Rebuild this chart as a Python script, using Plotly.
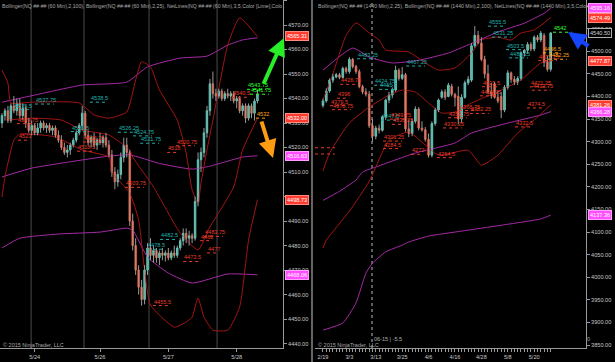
import plotly.graph_objects as go

W, H = 615, 362
FONT = "Liberation Sans"

# ======================= LEFT PANEL : NQ 60 Min =======================
L_open = [4530, 4533, 4535, 4531, 4537, 4535, 4538, 4533, 4536, 4530,
          4527, 4529, 4526, 4528, 4530, 4528, 4529, 4527, 4528, 4525,
          4523, 4520, 4518, 4519, 4521, 4523, 4526, 4529, 4534, 4525,
          4522, 4524, 4521, 4523, 4522, 4524, 4521, 4517, 4510, 4506,
          4509, 4516, 4521, 4518, 4490, 4480, 4470, 4463, 4458, 4470,
          4479, 4476, 4478, 4475, 4477, 4476, 4477, 4475, 4477, 4476,
          4479, 4482, 4485, 4483, 4484, 4483, 4498, 4515, 4518, 4526,
          4535, 4546, 4542, 4541, 4543, 4540, 4542, 4541, 4542, 4539,
          4540, 4535, 4537, 4532, 4537, 4534, 4539]
L_high = [4534, 4536, 4537, 4538, 4541, 4540, 4540, 4538, 4537, 4532,
          4531, 4530, 4530, 4531, 4531, 4530, 4530, 4529, 4529, 4527,
          4525, 4522, 4521, 4522, 4524, 4527, 4530, 4537, 4535, 4527,
          4525, 4526, 4524, 4526, 4525, 4526, 4523, 4519, 4512, 4511,
          4518, 4524, 4524, 4519, 4493, 4483, 4472, 4466, 4472, 4481,
          4483, 4480, 4479, 4478, 4479, 4478, 4479, 4478, 4480, 4480,
          4483, 4487, 4487, 4486, 4485, 4500, 4518, 4520, 4528, 4537,
          4548, 4551, 4544, 4544, 4544, 4543, 4544, 4543, 4543, 4541,
          4541, 4538, 4538, 4538, 4538, 4540, 4543.75]
L_low = [4528, 4531, 4530, 4530, 4534, 4533, 4532, 4531, 4528, 4526,
         4525, 4525, 4525, 4526, 4527, 4526, 4526, 4525, 4524, 4522,
         4519, 4517, 4516, 4517, 4520, 4522, 4525, 4527, 4524, 4521,
         4520, 4520, 4519, 4521, 4520, 4520, 4516, 4508, 4503, 4504,
         4507, 4514, 4516, 4488, 4478, 4468, 4460, 4455.5, 4456, 4468,
         4474, 4473, 4473, 4472, 4474, 4473.5, 4474, 4474, 4475, 4475,
         4478, 4480, 4481, 4480, 4481, 4482, 4496, 4510, 4516, 4524,
         4533, 4540, 4539, 4540, 4539, 4539, 4540, 4539, 4538, 4536,
         4534, 4533, 4530, 4531, 4532, 4531, 4538]
L_close = [4533, 4535, 4531, 4537, 4535, 4538, 4533, 4536, 4530, 4527,
           4529, 4526, 4528, 4530, 4528, 4529, 4527, 4528, 4525, 4523,
           4520, 4518, 4519, 4521, 4523, 4526, 4529, 4534, 4525, 4522,
           4524, 4521, 4523, 4522, 4524, 4521, 4517, 4510, 4506, 4509,
           4516, 4521, 4518, 4490, 4480, 4470, 4463, 4458, 4470, 4479,
           4476, 4478, 4475, 4477, 4476, 4477, 4475, 4477, 4476, 4479,
           4482, 4485, 4483, 4484, 4483, 4498, 4515, 4518, 4526, 4535,
           4546, 4542, 4541, 4543, 4540, 4542, 4541, 4542, 4539, 4540,
           4535, 4537, 4532, 4537, 4534, 4539, 4541.75]

L_date_ticks = [11, 33, 56, 79]
L_date_text = ["5/24", "5/26", "5/27", "5/28"]
L_session_breaks = [9.8, 27.6, 49.5, 72.4]

# Bollinger(2,100) - magenta
L_bb100_up_bar = [0, 14, 27, 42, 49, 60, 69, 76, 81, 86]
L_bb100_up = [4538.5, 4542.2, 4545.5, 4546.7, 4552.9, 4556.5, 4557.3, 4561.8, 4563.9, 4564.8]
L_bb100_mid_bar = [0, 10, 22, 36, 43, 53, 64, 70, 81, 86]
L_bb100_mid = [4508, 4511.6, 4514, 4516.5, 4517, 4513.5, 4511.2, 4512.4, 4516.1, 4516.63]
L_bb100_lo_bar = [0, 6, 19, 33, 42, 44, 49, 56, 64, 76, 86]
L_bb100_lo = [4479, 4483, 4484.7, 4485.5, 4487.1, 4486.3, 4475.3, 4468.8, 4464.7, 4468.4, 4468.06]
# Bollinger(2,25) - dark red
L_bb25_up_bar = [0, 2, 3, 10, 26, 31, 36, 42, 45, 47, 50, 53, 59, 62, 64, 66, 67, 69, 71, 76, 80, 86]
L_bb25_up = [4551.6, 4546.3, 4538.2, 4538.5, 4538.2, 4533.3, 4532, 4534.5, 4547.6, 4555, 4552.9,
             4543.5, 4531.2, 4517.8, 4502.7, 4497.3, 4505.5, 4519, 4531.2, 4561.8, 4572.9, 4565.31]
L_bb25_mid_bar = [2, 10, 20, 27, 36, 43, 44, 51, 60, 66, 70, 78, 81, 86]
L_bb25_mid = [4531.2, 4532, 4531.2, 4527.1, 4525.1, 4519, 4516.1, 4503.9, 4485.1, 4478.2,
              4487.6, 4503.9, 4519, 4532.0]
L_bb25_lo_bar = [0, 1, 4, 6, 18, 27, 36, 37, 43, 46, 48, 50, 58, 62, 64, 66, 68, 71, 76, 80, 83, 86]
L_bb25_lo = [4499.8, 4508, 4523, 4525.5, 4524.3, 4519, 4516.1, 4510, 4501.4, 4490.4, 4470,
             4455.7, 4446.7, 4448.8, 4450.8, 4458.6, 4450.8, 4445.5, 4445.5, 4454.9, 4482.2, 4498.73]

# NetLines labels (value, starting bar, colour group)
L_lbl_val = [4537.75, 4538.5, 4535.5, 4529.75, 4523, 4526.5, 4522.25, 4518.5, 4526.25,
             4524.75, 4521.75, 4503.75, 4482.5, 4478.5, 4483.75, 4482, 4477, 4473.5,
             4455.5, 4520.75, 4518, 4540.5, 4543.75, 4541.75, 4532]
L_lbl_bar = [11.1, 29.6, 4.0, 5.0, 5.4, 23.2, 27.3, 25.3, 39.0,
             44.1, 46.5, 41.4, 53.2, 48.8, 68.0, 66.7, 69.0, 61.0,
             50.8, 58.6, 55.6, 77.4, 82.5, 83.5, 85.5]
L_lbl_col = ["cyan", "cyan", "cyan", "red", "red", "cyan", "red", "red", "cyan",
             "cyan", "cyan", "red", "cyan", "cyan", "red", "red", "red", "red",
             "red", "red", "red", "red", "green", "green", "orange"]

L_marker_val = [4565.31, 4532.00, 4516.63, 4498.73, 4468.06]
L_marker_kind = ["red", "red", "mag", "red", "mag"]

# ======================= RIGHT PANEL : NQ 1440 Min =======================
R_open = [4380, 4390, 4412, 4436, 4443, 4448, 4442, 4462, 4455, 4482,
          4466, 4455, 4422, 4410, 4405, 4335, 4312, 4330, 4325, 4355,
          4392, 4403, 4414, 4458, 4440, 4448, 4328, 4318, 4345, 4372,
          4330, 4326, 4305, 4270, 4340, 4370, 4398, 4410, 4400, 4422,
          4404, 4400, 4350, 4398, 4430, 4436, 4512, 4535, 4518, 4482,
          4450, 4410, 4428, 4398, 4400, 4370, 4420, 4452, 4438, 4432,
          4440, 4496, 4502, 4515, 4505, 4531, 4525, 4535, 4478, 4460]
R_high = [4395, 4418, 4440, 4450, 4452, 4452, 4466, 4466, 4487, 4485,
          4470, 4460, 4426, 4418, 4412, 4350, 4335, 4338, 4358, 4395,
          4410, 4420, 4468, 4462, 4465, 4452, 4348, 4350, 4378, 4376,
          4345, 4332, 4318, 4345, 4375, 4395, 4415, 4416, 4430, 4428,
          4408, 4422, 4405, 4435, 4445, 4518, 4555.5, 4545, 4531, 4490,
          4470, 4430, 4432, 4412, 4410, 4425, 4458, 4455, 4445, 4445,
          4500, 4505, 4520, 4520, 4535, 4536, 4545, 4540, 4490, 4542]
R_low = [4375, 4386, 4408, 4430, 4440, 4438, 4440, 4450, 4450, 4462,
         4450, 4418, 4405, 4400, 4330, 4300, 4305, 4318, 4322, 4348,
         4385, 4396, 4410, 4435, 4436, 4322, 4310, 4312, 4340, 4325,
         4322, 4300, 4264.5, 4265, 4335, 4365, 4395, 4392, 4398, 4400,
         4378, 4338, 4342, 4395, 4425, 4432, 4508, 4515, 4478, 4440,
         4405, 4395, 4395, 4385, 4352, 4365, 4415, 4430, 4425, 4425,
         4435, 4488, 4495, 4500, 4500, 4520, 4520, 4465, 4455, 4455]
R_close = [4390, 4412, 4436, 4443, 4448, 4442, 4462, 4455, 4482, 4466,
           4455, 4422, 4410, 4405, 4335, 4312, 4330, 4325, 4355, 4392,
           4403, 4414, 4458, 4440, 4448, 4328, 4318, 4345, 4372, 4330,
           4326, 4305, 4270, 4340, 4370, 4392, 4410, 4398, 4425, 4405,
           4398, 4350, 4398, 4430, 4438, 4512, 4535, 4518, 4482, 4450,
           4410, 4402, 4398, 4390, 4370, 4420, 4452, 4438, 4432, 4440,
           4496, 4502, 4515, 4505, 4531, 4525, 4540, 4475, 4460, 4540.5]

R_date_ticks = [0, 8, 16, 24, 32, 40, 48, 56, 64]
R_date_text = ["2/19", "3/3", "3/13", "3/25", "4/6", "4/16", "4/28", "5/8", "5/20"]
R_rollover_bar = 14.85
R_rollover_text = "06-15 | -5.5"

R_bb100_up_bar = [0, 9, 14, 21, 29, 38, 44, 53, 61, 67, 69]
R_bb100_up = [4458, 4507, 4487, 4474, 4480, 4496, 4514, 4542.5, 4562, 4584, 4595.16]
R_bb100_mid_bar = [0, 5, 10, 12, 16, 28, 40, 45, 56, 66, 69]
R_bb100_mid = [4170, 4190, 4215, 4232.7, 4243.8, 4274.8, 4297, 4319, 4341, 4358.8, 4366.28]
R_bb100_lo_bar = [0, 6, 10, 13, 15, 19, 24, 26, 32, 42, 54, 66, 69]
R_bb100_lo = [3883, 3898.7, 3943, 4009, 4031, 4056, 4071, 4078, 4091, 4102, 4115, 4129, 4137.36]
R_bb25_up_bar = [0, 3, 7, 10, 14, 17, 19, 26, 31, 35, 40, 45, 48, 53, 57, 60, 64, 69]
R_bb25_up = [4392, 4450, 4535, 4562.4, 4540.3, 4524.8, 4502.7, 4498.2, 4474, 4458.4, 4462.8,
             4496, 4524.8, 4531.4, 4524.8, 4540.3, 4547, 4574.49]
R_bb25_mid_bar = [0, 2, 8, 14, 20, 24, 28, 32, 36, 40, 45, 54, 60, 66, 69]
R_bb25_mid = [4235, 4275, 4341, 4376.5, 4403, 4414, 4409.7, 4385.4, 4363.3, 4365.5, 4385.4,
              4414, 4436.3, 4474, 4477.87]
R_bb25_lo_bar = [0, 1, 8, 14, 20, 26, 35, 44, 48, 53, 59, 64, 69]
R_bb25_lo = [4064.6, 4082, 4146, 4212, 4303, 4321, 4270, 4281, 4248, 4270, 4319, 4348, 4381.26]

R_lbl_val = [4555.5, 4531.25, 4503.5, 4485.25, 4483.25, 4467.25, 4424.75, 4415.5, 4347.5,
             4426.75, 4396, 4379.5, 4370.75, 4349.75, 4338.25, 4301.25, 4284.5, 4272,
             4264.5, 4330.25, 4352.75, 4362.25, 4368.75, 4421.5, 4401.25, 4374.5, 4332.5,
             4421.25, 4413.75, 4479.25, 4496.5, 4482.25, 4542]
R_lbl_bar = [50.0, 51.2, 55.5, 56.4, 10.3, 25.2, 15.5, 17.0, 17.6,
             5.2, 4.2, 2.1, 2.7, 20.3, 20.9, 18.2, 18.2, 26.7,
             34.5, 36.4, 37.9, 44.5, 41.2, 48.2, 47.6, 61.8, 58.2,
             62.7, 63.3, 65.2, 66.7, 68.2, 69.7]
R_lbl_col = ["cyan"] * 9 + ["red"] * 21 + ["orange", "orange", "green"]

R_edge_lines = [4286.5, 4272.6]   # NetLines carried in from the left edge

R_marker_val = [4595.16, 4574.49, 4540.50, 4477.87, 4381.26, 4366.28, 4137.36]
R_marker_kind = ["mag", "red", "last", "red", "red", "mag", "mag"]

# ======================= STYLE / GEOMETRY =======================
UP, DN, WICK = "#3ddbc6", "#ef4a2c", "#9a9a9a"
MAG, DRED = "#a62aa6", "#a51515"
LBL = {"cyan": "#1fb0ac", "red": "#ea3b28", "green": "#2cff2c", "orange": "#ffa31a"}
TICKC = "#c8c8c8"
AXC = "#9a9a9a"

xL_dom = [0, 283 / W]
xR_dom = [315 / W, 586 / W]
y_dom = [14 / H, 1]
L_xrange = [-0.67, 94.6]
R_xrange = [-2.42, 79.7]
L_yrange = [4438.2, 4580.2]
R_yrange = [3843.4, 4613.3]
L_pxbar, R_pxbar = 2.97, 3.3

fig = go.Figure()


def add_candles(o, h, l, c, xa, ya):
    n = len(o)
    bars = list(range(n))
    wx, wy = [], []
    for i in bars:
        wx += [i, i, None]
        wy += [l[i], h[i], None]
    fig.add_trace(go.Scatter(x=wx, y=wy, mode="lines", line=dict(color=WICK, width=1),
                             xaxis=xa, yaxis=ya, hoverinfo="skip"))
    fig.add_trace(go.Candlestick(
        x=bars, open=o, close=c,
        high=[max(a, b) for a, b in zip(o, c)], low=[min(a, b) for a, b in zip(o, c)],
        increasing=dict(fillcolor=UP, line=dict(color=UP, width=1)),
        decreasing=dict(fillcolor=DN, line=dict(color=DN, width=1)),
        xaxis=xa, yaxis=ya, hoverinfo="skip"))


def add_line(bx, by, color, xa, ya):
    fig.add_trace(go.Scatter(x=bx, y=by, mode="lines",
                             line=dict(color=color, width=1, shape="spline", smoothing=0.5),
                             xaxis=xa, yaxis=ya, hoverinfo="skip"))


# left panel
add_line(L_bb100_up_bar, L_bb100_up, MAG, "x", "y")
add_line(L_bb100_mid_bar, L_bb100_mid, MAG, "x", "y")
add_line(L_bb100_lo_bar, L_bb100_lo, MAG, "x", "y")
add_line(L_bb25_up_bar, L_bb25_up, DRED, "x", "y")
add_line(L_bb25_mid_bar, L_bb25_mid, DRED, "x", "y")
add_line(L_bb25_lo_bar, L_bb25_lo, DRED, "x", "y")
add_candles(L_open, L_high, L_low, L_close, "x", "y")

# right panel
add_line(R_bb100_up_bar, R_bb100_up, MAG, "x2", "y2")
add_line(R_bb100_mid_bar, R_bb100_mid, MAG, "x2", "y2")
add_line(R_bb100_lo_bar, R_bb100_lo, MAG, "x2", "y2")
add_line(R_bb25_up_bar, R_bb25_up, DRED, "x2", "y2")
add_line(R_bb25_mid_bar, R_bb25_mid, DRED, "x2", "y2")
add_line(R_bb25_lo_bar, R_bb25_lo, DRED, "x2", "y2")
add_candles(R_open, R_high, R_low, R_close, "x2", "y2")

annotations, shapes = [], []


def fmt(v):
    return f"{v:.2f}".rstrip("0").rstrip(".")


def add_labels(vals, bars, cols, xr, yr, pxbar, extra_last=0):
    for k, (v, b, cname) in enumerate(zip(vals, bars, cols)):
        t = fmt(v)
        col = LBL[cname]
        annotations.append(dict(x=b, y=v, xref=xr, yref=yr, text=t, showarrow=False,
                                xanchor="left", yanchor="bottom", borderpad=0,
                                font=dict(size=5.6, color=col, family=FONT)))
        length = len(t) * 2.7 / pxbar
        if cname == "green" and extra_last:
            length += extra_last / pxbar
        shapes.append(dict(type="line", xref=xr, yref=yr, x0=b, x1=b + length, y0=v, y1=v,
                           line=dict(color=col, width=1, dash="dot")))


add_labels(L_lbl_val, L_lbl_bar, L_lbl_col, "x", "y", L_pxbar)
add_labels(R_lbl_val, R_lbl_bar, R_lbl_col, "x2", "y2", R_pxbar, extra_last=8)

for v in R_edge_lines:
    shapes.append(dict(type="line", xref="x2", yref="y2", x0=R_xrange[0], x1=R_xrange[0] + 6,
                       y0=v, y1=v, line=dict(color=LBL["red"], width=1, dash="dot")))

# session breaks (left) and rollover (right)
for b in L_session_breaks:
    shapes.append(dict(type="line", xref="x", yref="paper", x0=b, x1=b, y0=y_dom[0], y1=1,
                       line=dict(color="#4a4a4a", width=1), layer="below"))
shapes.append(dict(type="line", xref="x2", yref="paper", x0=R_rollover_bar, x1=R_rollover_bar,
                   y0=y_dom[0], y1=1, line=dict(color="#bdbdbd", width=1, dash="dot"), layer="below"))
annotations.append(dict(x=R_rollover_bar, y=1 - 339 / H, xref="x2", yref="paper",
                        text=R_rollover_text, showarrow=False, xanchor="left", yanchor="middle",
                        font=dict(size=5.5, color="#b0b0b0", family=FONT)))

# price markers on the axes
MK = {"red": dict(bgcolor="#ff3b2f", bordercolor="#ff8a80", font="#ffffff"),
      "mag": dict(bgcolor="#ff4dff", bordercolor="#ffa0ff", font="#ffffff"),
      "last": dict(bgcolor="#000000", bordercolor="#b0b0b0", font="#d0d0d0")}


def add_markers(vals, kinds, xpaper, yr):
    for v, k in zip(vals, kinds):
        st = MK[k]
        annotations.append(dict(x=xpaper, y=v, xref="paper", yref=yr, text=f"{v:.2f}",
                                showarrow=False, xanchor="left", yanchor="middle",
                                bgcolor=st["bgcolor"], bordercolor=st["bordercolor"],
                                borderwidth=1, borderpad=1,
                                font=dict(size=5.6, color=st["font"], family=FONT)))


add_markers(L_marker_val, L_marker_kind, xL_dom[1] + 1.5 / W, "y")
add_markers(R_marker_val, R_marker_kind, xR_dom[1] + 2 / W, "y2")

# arrows
def arrow(hx, hy, ax, ay, color):
    annotations.append(dict(x=hx / W, y=1 - hy / H, xref="paper", yref="paper", text="",
                            showarrow=True, ax=ax, ay=ay, arrowcolor=color, arrowwidth=4,
                            arrowhead=2, arrowsize=0.9, standoff=0))

arrow(284, 38, -21, 47, "#27ee27")
arrow(273, 158, -12, -38, "#ff9d12")
arrow(568, 32, 22, 15, "#1446ff")

# headers and copyright
annotations.append(dict(x=-0.5 / W, y=1 - 1 / H, xref="paper", yref="paper", showarrow=False,
                        xanchor="left", yanchor="top",
                        text="Bollinger(NQ ##-## (60 Min),2,100), Bollinger(NQ ##-## (60 Min),2,25), NetLines(NQ ##-## (60 Min),3,5,Color [Lime],Colo",
                        font=dict(size=5.2, color="#a8a8a8", family=FONT)))
annotations.append(dict(x=316 / W, y=1 - 1 / H, xref="paper", yref="paper", showarrow=False,
                        xanchor="left", yanchor="top",
                        text="Bollinger(NQ ##-## (1440 Min),2,25), Bollinger(NQ ##-## (1440 Min),2,100), NetLines(NQ ##-## (1440 Min),3,5,Color",
                        font=dict(size=5.2, color="#a8a8a8", family=FONT)))
for xp in (1, 316):
    annotations.append(dict(x=xp / W, y=1 - 345 / H, xref="paper", yref="paper", showarrow=False,
                            xanchor="left", yanchor="middle", text="© 2015 NinjaTrader, LLC",
                            font=dict(size=5.5, color="#a8a8a8", family=FONT)))
annotations.append(dict(x=585 / W, y=1 - 339 / H, xref="paper", yref="paper", showarrow=False,
                        xanchor="left", yanchor="middle", text="0",
                        font=dict(size=5.5, color="#a8a8a8", family=FONT)))

# panel separator
shapes.append(dict(type="line", xref="paper", yref="paper", x0=312 / W, x1=312 / W, y0=0, y1=1,
                   line=dict(color="#c8c8c8", width=1)))

tickfont = dict(size=5.6, color=TICKC, family=FONT)
common_x = dict(showgrid=False, zeroline=False, showline=True, linecolor=AXC, linewidth=1,
                ticks="outside", ticklen=3, tickcolor=AXC, tickfont=tickfont, automargin=False,
                rangeslider=dict(visible=False), tickmode="array")
common_y = dict(showgrid=False, zeroline=False, showline=True, linecolor=AXC, linewidth=1,
                side="right", ticks="outside", ticklen=3, tickcolor=AXC, tickfont=tickfont,
                tickformat=".2f", automargin=False)

R_ticktext = [R_date_text[R_date_ticks.index(i)] if i in R_date_ticks else "" for i in range(len(R_open))]

fig.update_layout(
    width=W, height=H, margin=dict(l=0, r=0, t=0, b=0, pad=0, autoexpand=False),
    paper_bgcolor="#000000", plot_bgcolor="#000000", showlegend=False,
    xaxis=dict(domain=xL_dom, range=L_xrange, anchor="y", tickvals=L_date_ticks,
               ticktext=L_date_text, **common_x),
    yaxis=dict(domain=y_dom, range=L_yrange, anchor="x", dtick=10, tick0=4440, **common_y),
    xaxis2=dict(domain=xR_dom, range=R_xrange, anchor="y2", tickvals=list(range(len(R_open))),
                ticktext=R_ticktext, **common_x),
    yaxis2=dict(domain=y_dom, range=R_yrange, anchor="x2", dtick=50, tick0=3850, **common_y),
    annotations=annotations, shapes=shapes,
)

fig.write_html("out.html", config={"displayModeBar": False, "staticPlot": True},
               post_script="document.body.style.margin='0';document.body.style.padding='0';"
                           "document.body.style.overflow='hidden';document.body.style.background='#000';")
